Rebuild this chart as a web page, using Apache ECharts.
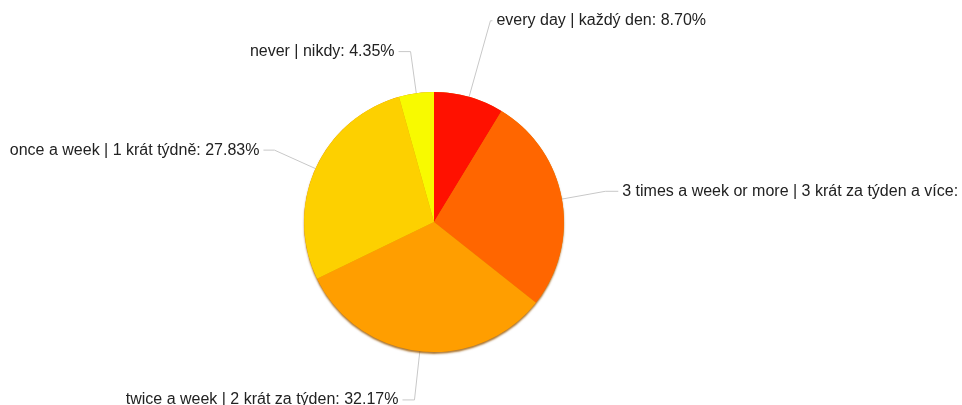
<!DOCTYPE html>
<html>
<head>
<meta charset="utf-8">
<script src="https://cdn.jsdelivr.net/npm/echarts@6/dist/echarts.min.js"></script>
<style>
    html, body {margin: 0; padding: 0; background: #fff;}
    #piechart {width: 962px; height: 405px;}
</style>
</head>
<body>
<div id="piechart"></div>
<script>
    // survey answers, share of respondents in %
    var categories = [
        'every day | každý den',
        '3 times a week or more | 3 krát za týden a více',
        'twice a week | 2 krát za týden',
        'once a week | 1 krát týdně',
        'never | nikdy'
    ];
    var shares = [8.70, 26.96, 32.17, 27.83, 4.35];
    var colors = ['#ff1100', '#ff6600', '#ff9e00', '#fdd000', '#f8fa00'];
    var lineLengths = [79, 44, 49, 45, 42];
    var lineLengths2 = [2, 13, 12, 11, 12];

    var myChart = echarts.init(document.getElementById('piechart'));
    var items = [];
    for (var i = 0; i < categories.length; i++) {
        items.push({
            name: categories[i],
            value: shares[i],
            itemStyle: {color: colors[i]},
            labelLine: {length: lineLengths[i], length2: lineLengths2[i]}
        });
    }
    var total = 0;
    for (var j = 0; j < shares.length; j++) total += shares[j];

    myChart.setOption({
        animation: false,
        series: [{
            // disc behind the pie, only gives the darker rim at the bottom
            type: 'pie',
            silent: true,
            center: [434, 222],
            radius: 130,
            label: {show: false},
            labelLine: {show: false},
            itemStyle: {
                color: '#d98400',
                shadowColor: 'rgba(150,85,0,0.8)',
                shadowBlur: 2,
                shadowOffsetY: 2
            },
            data: [total]
        }, {
            type: 'pie',
            center: [434, 222],
            radius: 130,
            startAngle: 90,
            clockwise: true,
            avoidLabelOverlap: false,
            itemStyle: {borderWidth: 0},
            label: {
                show: true,
                color: '#222',
                fontFamily: 'Liberation Sans',
                fontSize: 16,
                overflow: 'none',
                distanceToLabelLine: 4,
                formatter: function (p) {
                    return p.name + ': ' + p.value.toFixed(2) + '%';
                }
            },
            labelLine: {
                show: true,
                smooth: false,
                lineStyle: {color: '#c8c8c8', width: 1}
            },
            emphasis: {disabled: true},
            data: items
        }]
    });
</script>
</body>
</html>
